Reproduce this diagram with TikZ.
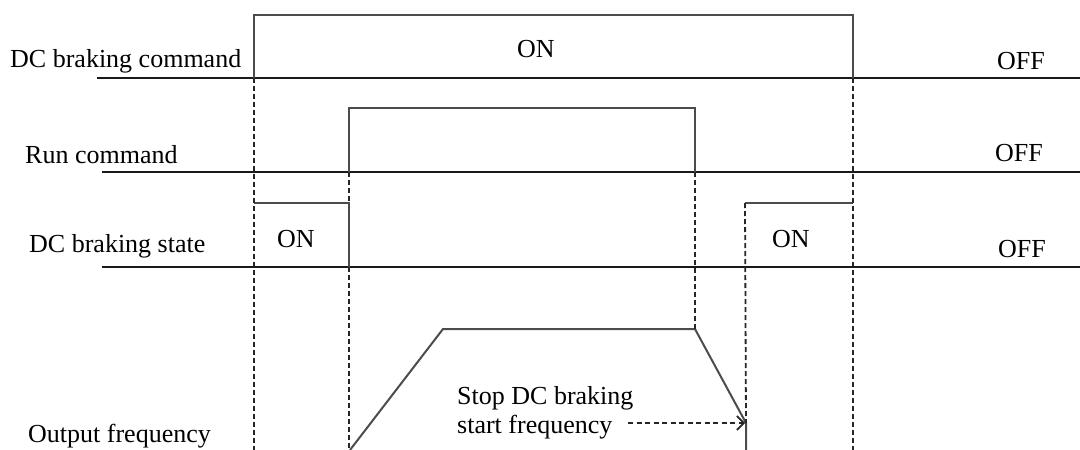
\documentclass[tikz,border=0pt]{standalone}
\usepackage{fontspec}
\setmainfont{Liberation Serif}
\usetikzlibrary{arrows.meta}
\begin{document}
\begin{tikzpicture}[x=1pt,y=-1pt,
  lbl/.style={anchor=base west,inner sep=0pt,font=\fontsize{26}{30}\selectfont},
  baseln/.style={line width=2pt,black!90},
  wave/.style={line width=2pt,black!70},
  guide/.style={line width=1.8pt,black!85,dash pattern=on 5pt off 3pt},
  dasharrow/.style={line width=1.8pt,black!85,dash pattern=on 5pt off 3.5pt,-{Straight Barb[length=7pt,width=14pt,line width=1.6pt,sep=1pt]}}]
\useasboundingbox (0,0) rectangle (1080,450);
% coordinates
\coordinate (c0) at (97,78);   \coordinate (c1) at (254,78);
\coordinate (c2) at (254,15);  \coordinate (c3) at (853,15);
\coordinate (c4) at (853,78);  \coordinate (c5) at (1080,78);
\coordinate (r0) at (102,172); \coordinate (r1) at (349,172);
\coordinate (r2) at (349,108); \coordinate (r3) at (695,108);
\coordinate (r4) at (695,172); \coordinate (r5) at (1080,172);
\coordinate (s0) at (102,267); \coordinate (s5) at (1080,267);
\coordinate (s1) at (254,203); \coordinate (s2) at (349,203);
\coordinate (s3) at (349,267); \coordinate (s4) at (745,203);
\coordinate (s6) at (853,203);
\coordinate (f0) at (350,450); \coordinate (f1) at (443,329);
\coordinate (f2) at (695,329); \coordinate (brk) at (746,423);
\coordinate (f4) at (746,450);
\coordinate (b1) at (254,450); \coordinate (b2) at (349,450);
\coordinate (b3) at (853,450);
\coordinate (as) at (628,423);
% baselines
\draw[baseln] (c0) -- (c5);
\draw[baseln] (r0) -- (r5);
\draw[baseln] (s0) -- (s5);
% waveforms
\draw[wave] (c1) -- (c2) -- (c3) -- (c4);
\draw[wave] (r1) -- (r2) -- (r3) -- (r4);
\draw[wave] (s1) -- (s2) -- (s3);
\draw[wave] (s4) -- (s6);
\draw[wave] (f0) -- (f1) -- (f2) -- (brk) -- (f4);
% guides
\draw[guide] (c1) -- (b1);
\draw[guide] (r1) -- (s2);
\draw[guide] (s3) -- (b2);
\draw[guide] (r4) -- (f2);
\draw[guide] (s4) -- (brk);
\draw[guide] (c4) -- (b3);
% labels
\node[lbl] (l1) at (10,67) {DC braking command};
\node[lbl] (l2) at (25,163) {Run command};
\node[lbl] (l3) at (29,252) {DC braking state};
\node[lbl] (l4) at (28,442) {Output frequency};
\node[lbl] (on1) at (517,57) {ON};
\node[lbl] (on2) at (277,247) {ON};
\node[lbl] (on3) at (772,247) {ON};
\node[lbl] (off1) at (997,69) {OFF};
\node[lbl] (off2) at (995,161) {OFF};
\node[lbl] (off3) at (998,257) {OFF};
\node[lbl] (t1) at (457,404) {Stop DC braking};
\node[lbl] (t2) at (457,433) {start frequency};
\draw[dasharrow] (as) -- (brk);
\end{tikzpicture}
\end{document}
